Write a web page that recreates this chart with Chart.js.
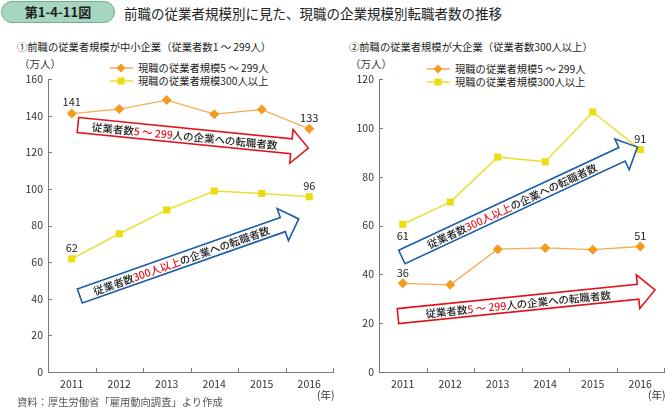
<!DOCTYPE html>
<html lang="ja">
<head>
<meta charset="UTF-8">
<title>第1-4-11図</title>
<script src="https://cdn.jsdelivr.net/npm/chart.js"></script>
<style>
    body {
        margin: 0;
        width: 669px;
        height: 409px;
        background: #fff;
        font-family: "Noto Sans CJK JP", sans-serif;
        color: #222;
        position: relative;
        overflow: hidden;
    }
    .t {
        position: absolute;
        white-space: nowrap;
        line-height: 16px;
        height: 16px;
        margin-top: -8px;
    }
    #pill {
        position: absolute;
        left: 1px; top: 1px;
        width: 112px; height: 20px;
        border-radius: 11px;
        background: #a6d6bf;
        border: 1px solid #6faf92;
        text-align: center;
        line-height: 20px;
        font-size: 13px;
        font-weight: bold;
        color: #1e1e1e;
    }
    .sub { font-size: 10.3px; }
    .unit { font-size: 10.5px; color: #333; }
    .leg { font-size: 10.3px; }
    .leg svg { position: absolute; left: -28px; top: 2px; }
    canvas { position: absolute; }
</style>
</head>
<body>
<div id="pill">第1-4-11図</div>
<div class="t" style="left:124px; top:13px; font-size:13.5px;">前職の従業者規模別に見た、現職の企業規模別転職者数の推移</div>

<div class="t sub" style="left:17px; top:47px;">①前職の従業者規模が中小企業（従業者数1 ～ 299人）</div>
<div class="t sub" style="left:349px; top:47px;">②前職の従業者規模が大企業（従業者数300人以上）</div>

<div class="t unit" style="left:19px; top:64px;">（万人）</div>
<div class="t unit" style="left:350px; top:64px;">（万人）</div>

<div id="legL1" class="t leg" style="left:138px; top:68px;"></div>
<div id="legL2" class="t leg" style="left:138px; top:81px;"></div>
<div id="legR1" class="t leg" style="left:455px; top:69px;"></div>
<div id="legR2" class="t leg" style="left:455px; top:82px;"></div>

<canvas id="left" width="340" height="344" style="left:0; top:56px; width:340px; height:344px;"></canvas>
<canvas id="right" width="334" height="344" style="left:335px; top:56px; width:334px; height:344px;"></canvas>

<div class="t unit" style="left:317px; top:395px;">(年)</div>
<div class="t unit" style="left:648px; top:395px;">(年)</div>
<div class="t" style="left:17px; top:402px; font-size:10.3px; color:#555;">資料：厚生労働省「雇用動向調査」より作成</div>

<script>
// 年
const years = ['2011', '2012', '2013', '2014', '2015', '2016'];

// 凡例
const seriesNames = ['現職の従業者規模5 ～ 299人', '現職の従業者規模300人以上'];

// ①前職が中小企業
const smallToSmall = [141.1, 143.6, 148.5, 140.8, 143.3, 132.8];
const smallToLarge = [61.8, 75.5, 88.5, 98.8, 97.5, 95.7];

// ②前職が大企業
const largeToSmall = [36.3, 35.7, 50.3, 50.8, 50.1, 51.4];
const largeToLarge = [60.5, 69.6, 88.0, 86.1, 106.5, 91.1];

const yMaxLeft = 160;
const yMaxRight = 120;

const ORANGE = '#f39b1c';
const ORANGE_LINE = '#f4ad55';
const YELLOW = '#efdc10';
const YELLOW_LINE = '#eadf33';
const RED = '#e0141e';
const BLUE = '#1b5ea9';
const FONT = '"Noto Sans CJK JP", sans-serif';

// 凡例 (html)
function legendHtml(name, color, lineColor, shape) {
    const mark = shape === 'diamond'
        ? '<polygon points="11,1.5 15.5,6 11,10.5 6.5,6" fill="' + color + '"/>'
        : '<rect x="7.5" y="2.5" width="7" height="7" fill="' + color + '"/>';
    return '<svg width="23" height="12"><line x1="0" y1="6" x2="23" y2="6" stroke="' + lineColor + '" stroke-width="1.5"/>' + mark + '</svg>' + name;
}
document.getElementById('legL1').innerHTML = legendHtml(seriesNames[0], ORANGE, ORANGE_LINE, 'diamond');
document.getElementById('legL2').innerHTML = legendHtml(seriesNames[1], YELLOW, YELLOW_LINE, 'square');
document.getElementById('legR1').innerHTML = legendHtml(seriesNames[0], ORANGE, ORANGE_LINE, 'diamond');
document.getElementById('legR2').innerHTML = legendHtml(seriesNames[1], YELLOW, YELLOW_LINE, 'square');

// 内向きの目盛り線
const innerTicks = {
    id: 'innerTicks',
    afterDraw(chart) {
        const ctx = chart.ctx;
        const xs = chart.scales.x, ys = chart.scales.y;
        const a = chart.chartArea;
        ctx.save();
        ctx.strokeStyle = '#7a7a7a';
        ctx.lineWidth = 1;
        ctx.beginPath();
        ys.ticks.forEach(t => {
            const y = Math.round(ys.getPixelForValue(t.value)) + 0.5;
            ctx.moveTo(a.left, y);
            ctx.lineTo(a.left + 4, y);
        });
        for (let i = 1; i <= years.length; i++) {
            const x = Math.round(xs.getPixelForValue(i - 0.5)) + 0.5;
            ctx.moveTo(x, a.bottom);
            ctx.lineTo(x, a.bottom - 4);
        }
        ctx.stroke();
        ctx.restore();
    }
};

// 最初と最後の値
const endLabels = {
    id: 'endLabels',
    afterDatasetsDraw(chart, args, opts) {
        const ctx = chart.ctx;
        ctx.save();
        ctx.font = '11px ' + FONT;
        ctx.fillStyle = '#222';
        ctx.textAlign = 'center';
        ctx.textBaseline = 'middle';
        chart.data.datasets.forEach((ds, di) => {
            const pts = chart.getDatasetMeta(di).data;
            const offs = opts.offsets[di];
            [0, pts.length - 1].forEach((idx, k) => {
                ctx.fillText(Math.round(ds.data[idx]), pts[idx].x, pts[idx].y + offs[k]);
            });
        });
        ctx.restore();
    }
};

// 矢印 (データ座標で指定)
const arrowNotes = {
    id: 'arrowNotes',
    afterDatasetsDraw(chart, args, opts) {
        const ctx = chart.ctx;
        const xs = chart.scales.x, ys = chart.scales.y;
        opts.arrows.forEach(ar => {
            const x0 = xs.getPixelForValue(ar.from[0]), y0 = ys.getPixelForValue(ar.from[1]);
            const x1 = xs.getPixelForValue(ar.to[0]), y1 = ys.getPixelForValue(ar.to[1]);
            const ang = Math.atan2(y1 - y0, x1 - x0);
            const len = Math.hypot(x1 - x0, y1 - y0);
            const sw = 15, hw = 34, hl = 17;
            ctx.save();
            ctx.translate(x0, y0);
            ctx.rotate(ang);
            ctx.beginPath();
            ctx.moveTo(0, -sw / 2);
            ctx.lineTo(len - hl, -sw / 2);
            ctx.lineTo(len - hl, -hw / 2);
            ctx.lineTo(len, 0);
            ctx.lineTo(len - hl, hw / 2);
            ctx.lineTo(len - hl, sw / 2);
            ctx.lineTo(0, sw / 2);
            ctx.closePath();
            ctx.fillStyle = '#fff';
            ctx.fill();
            ctx.lineWidth = 1.6;
            ctx.strokeStyle = ar.color;
            ctx.lineJoin = 'miter';
            ctx.stroke();

            ctx.font = '500 10.5px ' + FONT;
            ctx.textBaseline = 'middle';
            ctx.textAlign = 'left';
            const total = ar.text.reduce((s, p) => s + ctx.measureText(p[0]).width, 0);
            let x = (len - hl) / 2 - total / 2;
            ar.text.forEach(p => {
                ctx.fillStyle = p[1] ? RED : '#1e1e1e';
                ctx.fillText(p[0], x, 0.5);
                x += ctx.measureText(p[0]).width;
            });
            ctx.restore();
        });
    }
};

const textSmall = [['従業者数', false], ['5 ～ 299', true], ['人の企業への転職者数', false]];
const textLarge = [['従業者数', false], ['300人以上', true], ['の企業への転職者数', false]];

function makeChart(id, small, large, yMax, yWidth, padRight, labelOffsets, arrows) {
    return new Chart(document.getElementById(id), {
        type: 'line',
        data: {
            labels: years,
            datasets: [{
                label: seriesNames[0],
                data: small,
                borderColor: ORANGE_LINE,
                borderWidth: 1.3,
                backgroundColor: ORANGE,
                pointBackgroundColor: ORANGE,
                pointBorderWidth: 0,
                pointStyle: 'rectRot',
                pointRadius: 5,
                tension: 0
            }, {
                label: seriesNames[1],
                data: large,
                borderColor: YELLOW_LINE,
                borderWidth: 1.5,
                backgroundColor: YELLOW,
                pointBackgroundColor: YELLOW,
                pointBorderWidth: 0,
                pointStyle: 'rect',
                pointRadius: 5,
                tension: 0
            }]
        },
        options: {
            responsive: false,
            animation: false,
            layout: { padding: { top: 23, right: padRight, left: 0, bottom: 0 } },
            plugins: {
                legend: { display: false },
                tooltip: { enabled: false },
                endLabels: { offsets: labelOffsets },
                arrowNotes: { arrows: arrows }
            },
            scales: {
                x: {
                    offset: true,
                    grid: { display: false, drawTicks: false },
                    border: { color: '#7a7a7a', width: 1 },
                    ticks: { padding: 6, color: '#333', font: { family: FONT, size: 10.5 }, maxRotation: 0, autoSkip: false },
                    afterFit: s => { s.height = 28; }
                },
                y: {
                    min: 0,
                    max: yMax,
                    grid: { display: false, drawTicks: false },
                    border: { color: '#7a7a7a', width: 1 },
                    ticks: { stepSize: 20, padding: 5, color: '#333', font: { family: FONT, size: 10.5 } },
                    afterFit: s => { s.width = yWidth; }
                }
            }
        },
        plugins: [innerTicks, arrowNotes, endLabels]
    });
}

makeChart('left', smallToSmall, smallToLarge, yMaxLeft, 48, 7,
    [[-12, -11], [-11, -11]],
    [
        { from: [0.13, 134.9], to: [4.98, 122.3], color: RED, text: textSmall },
        { from: [0.17, 41.5], to: [4.78, 83.6], color: BLUE, text: textLarge }
    ]);

makeChart('right', largeToSmall, largeToLarge, yMaxRight, 44, 2,
    [[-11, -11], [12, -11]],
    [
        { from: [-0.02, 47.1], to: [4.94, 92.1], color: BLUE, text: textLarge },
        { from: [-0.1, 22.9], to: [5.31, 33.6], color: RED, text: textSmall }
    ]);
</script>
</body>
</html>
